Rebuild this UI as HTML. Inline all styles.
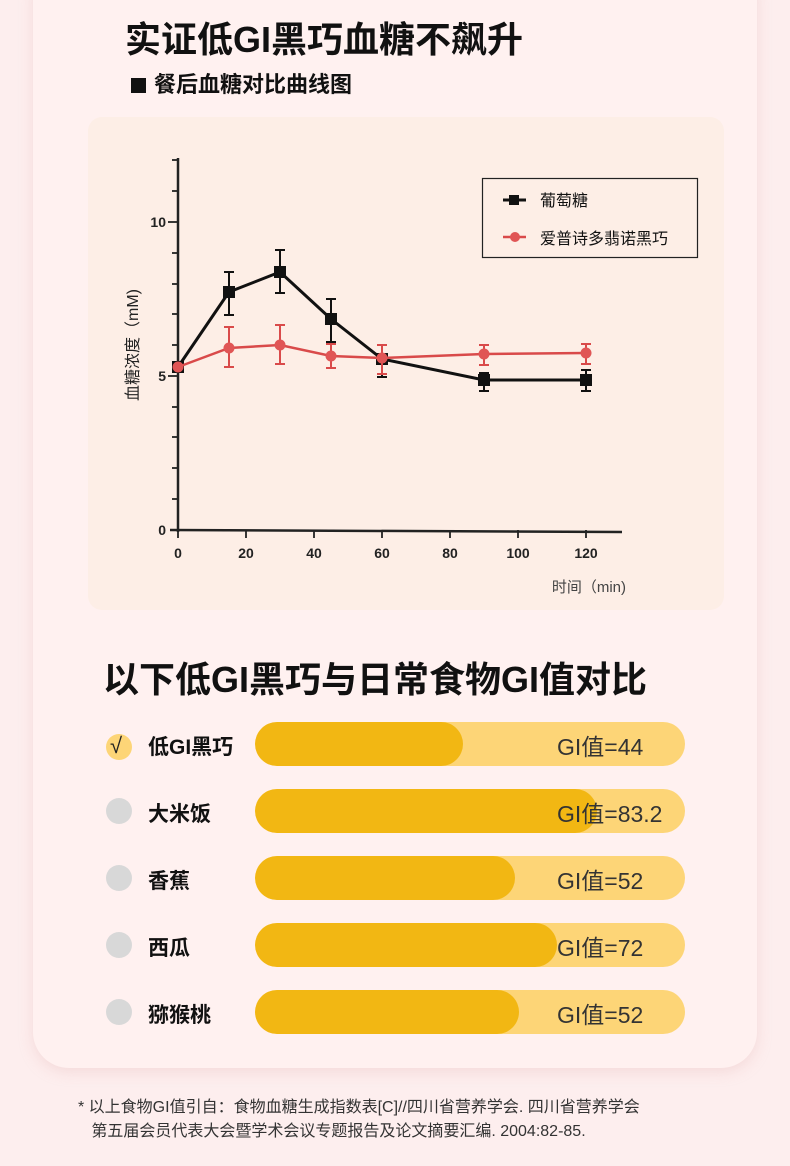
<!DOCTYPE html>
<html><head><meta charset="utf-8"><style>
*{margin:0;padding:0;box-sizing:border-box}
body{width:790px;height:1166px;background:#fdeeee;font-family:"Liberation Sans","Noto Sans CJK SC",sans-serif;position:relative;overflow:hidden}
.card{position:absolute;left:33px;top:-40px;width:724px;height:1108px;background:#fff1f0;border-radius:36px;box-shadow:0 4px 14px rgba(230,180,180,.35)}
.abs{position:absolute;white-space:nowrap}
.row .dot{position:absolute;left:106px;width:26px;height:26px;border-radius:50%;background:#d8d8d8}
.bar{position:absolute;left:255px;width:430px;height:44px;border-radius:22px;background:#fdd577;overflow:hidden}
.bar i{position:absolute;left:0;top:0;height:44px;border-radius:22px;background:#f2b713}
.lbl{position:absolute;left:148px;font-size:21px;font-weight:bold;color:#111}
.val{position:absolute;left:557px;font-size:23px;color:#333}
</style></head><body>
<div class="card"></div>
<div class="abs" style="left:125px;top:11px;font-size:36px;font-weight:bold;color:#111">实证低GI黑巧血糖不飙升</div>
<div class="abs" style="left:131px;top:67px;font-size:22px;font-weight:bold;color:#111"><span style="display:inline-block;width:15px;height:15px;background:#111;margin-right:8px;vertical-align:-1px"></span>餐后血糖对比曲线图</div>
<div class="abs" style="left:88px;top:117px;width:636px;height:493px;background:#fdeee6;border-radius:14px"></div>
<svg class="abs" style="left:0;top:0" width="790" height="620" font-family="Liberation Sans,Noto Sans CJK SC,sans-serif">
<g stroke="#222" stroke-width="2.5" fill="none">
<line x1="178" y1="158" x2="178" y2="532"/><line x1="170" y1="530" x2="622" y2="532"/>
<g stroke-width="1.8">
<line x1="172" y1="499" x2="178" y2="499"/><line x1="172" y1="468" x2="178" y2="468"/><line x1="172" y1="437" x2="178" y2="437"/><line x1="172" y1="407" x2="178" y2="407"/><line x1="168" y1="376" x2="178" y2="376"/><line x1="172" y1="345" x2="178" y2="345"/><line x1="172" y1="314" x2="178" y2="314"/><line x1="172" y1="284" x2="178" y2="284"/><line x1="172" y1="253" x2="178" y2="253"/><line x1="168" y1="222" x2="178" y2="222"/><line x1="172" y1="191" x2="178" y2="191"/><line x1="172" y1="160" x2="178" y2="160"/>
<line x1="178" y1="530" x2="178" y2="538"/><line x1="246" y1="530" x2="246" y2="538"/><line x1="314" y1="530" x2="314" y2="538"/><line x1="382" y1="530" x2="382" y2="538"/><line x1="450" y1="530" x2="450" y2="538"/><line x1="518" y1="530" x2="518" y2="538"/><line x1="586" y1="530" x2="586" y2="538"/>
</g></g>
<g font-size="14" fill="#222" font-weight="bold">
<text x="178" y="558" text-anchor="middle">0</text><text x="246" y="558" text-anchor="middle">20</text><text x="314" y="558" text-anchor="middle">40</text><text x="382" y="558" text-anchor="middle">60</text><text x="450" y="558" text-anchor="middle">80</text><text x="518" y="558" text-anchor="middle">100</text><text x="586" y="558" text-anchor="middle">120</text>
<text x="166" y="535" text-anchor="end">0</text><text x="166" y="381" text-anchor="end">5</text><text x="166" y="227" text-anchor="end">10</text>
</g>
<text x="626" y="592" text-anchor="end" font-size="15" fill="#444">时间（min)</text>
<text transform="translate(138,345) rotate(-90)" text-anchor="middle" font-size="16" fill="#222">血糖浓度（mM)</text>
<g stroke="#111" stroke-width="3" fill="none">
<polyline points="178,367 229,292 280,272 331,319 382,359 484,380 586,380"/>
<g stroke-width="2"><path d="M229,315v-43M224,315h10M224,272h10M280,293v-43M275,293h10M275,250h10M331,342v-43M326,342h10M326,299h10M382,377v-28M377,377h10M484,391v-18M479,391h10M479,373h10M586,391v-21M581,391h10M581,370h10"/></g>
</g>
<g fill="#111"><rect x="172" y="361" width="12" height="12"/><rect x="223" y="286" width="12" height="12"/><rect x="274" y="266" width="12" height="12"/><rect x="325" y="313" width="12" height="12"/><rect x="376" y="353" width="12" height="12"/><rect x="478" y="374" width="12" height="12"/><rect x="580" y="374" width="12" height="12"/></g>
<g stroke="#d94a4a" stroke-width="2.5" fill="none">
<polyline points="178,367 229,348 280,345 331,356 382,358 484,354 586,353"/>
<g stroke-width="2"><path d="M229,367v-40M224,367h10M224,327h10M280,364v-39M275,364h10M275,325h10M331,368v-24M326,368h10M326,344h10M382,374v-29M377,374h10M377,345h10M484,365v-20M479,365h10M479,345h10M586,364v-20M581,364h10M581,344h10"/></g>
</g>
<g fill="#e05555"><circle cx="178" cy="367" r="5.5"/><circle cx="229" cy="348" r="5.5"/><circle cx="280" cy="345" r="5.5"/><circle cx="331" cy="356" r="5.5"/><circle cx="382" cy="358" r="5.5"/><circle cx="484" cy="354" r="5.5"/><circle cx="586" cy="353" r="5.5"/></g>
<rect x="482.5" y="178.5" width="215" height="79" fill="none" stroke="#222" stroke-width="1.2"/>
<line x1="503" y1="200" x2="526" y2="200" stroke="#111" stroke-width="3"/><rect x="509" y="195" width="10" height="10" fill="#111"/>
<line x1="503" y1="237" x2="526" y2="237" stroke="#d94a4a" stroke-width="2.5"/><circle cx="515" cy="237" r="5" fill="#e05555"/>
<text x="540" y="206" font-size="16" fill="#111">葡萄糖</text>
<text x="540" y="244" font-size="16" fill="#111">爱普诗多翡诺黑巧</text>
</svg>
<div class="abs" style="left:103px;top:651px;font-size:36px;font-weight:bold;color:#111">以下低GI黑巧与日常食物GI值对比</div>
<div class="row">
<div class="dot" style="top:734px;background:#fdd577"></div><div class="abs" style="left:110px;top:733px;font-size:22px;color:#222">√</div>
<div class="lbl" style="top:731px">低GI黑巧</div><div class="bar" style="top:722px"><i style="width:208px"></i></div><div class="val" style="top:728px">GI值=44</div>
<div class="dot" style="top:798px"></div><div class="lbl" style="top:798px">大米饭</div><div class="bar" style="top:789px"><i style="width:342px"></i></div><div class="val" style="top:795px">GI值=83.2</div>
<div class="dot" style="top:865px"></div><div class="lbl" style="top:865px">香蕉</div><div class="bar" style="top:856px"><i style="width:260px"></i></div><div class="val" style="top:862px">GI值=52</div>
<div class="dot" style="top:932px"></div><div class="lbl" style="top:932px">西瓜</div><div class="bar" style="top:923px"><i style="width:302px"></i></div><div class="val" style="top:929px">GI值=72</div>
<div class="dot" style="top:999px"></div><div class="lbl" style="top:999px">猕猴桃</div><div class="bar" style="top:990px"><i style="width:264px"></i></div><div class="val" style="top:996px">GI值=52</div>
</div>
<div class="abs" style="left:78px;top:1096px;font-size:16px;color:#333;line-height:24px">* 以上食物GI值引自：食物血糖生成指数表[C]//四川省营养学会. 四川省营养学会<br>&nbsp;&nbsp;&nbsp;第五届会员代表大会暨学术会议专题报告及论文摘要汇编. 2004:82-85.</div>
</body></html>
